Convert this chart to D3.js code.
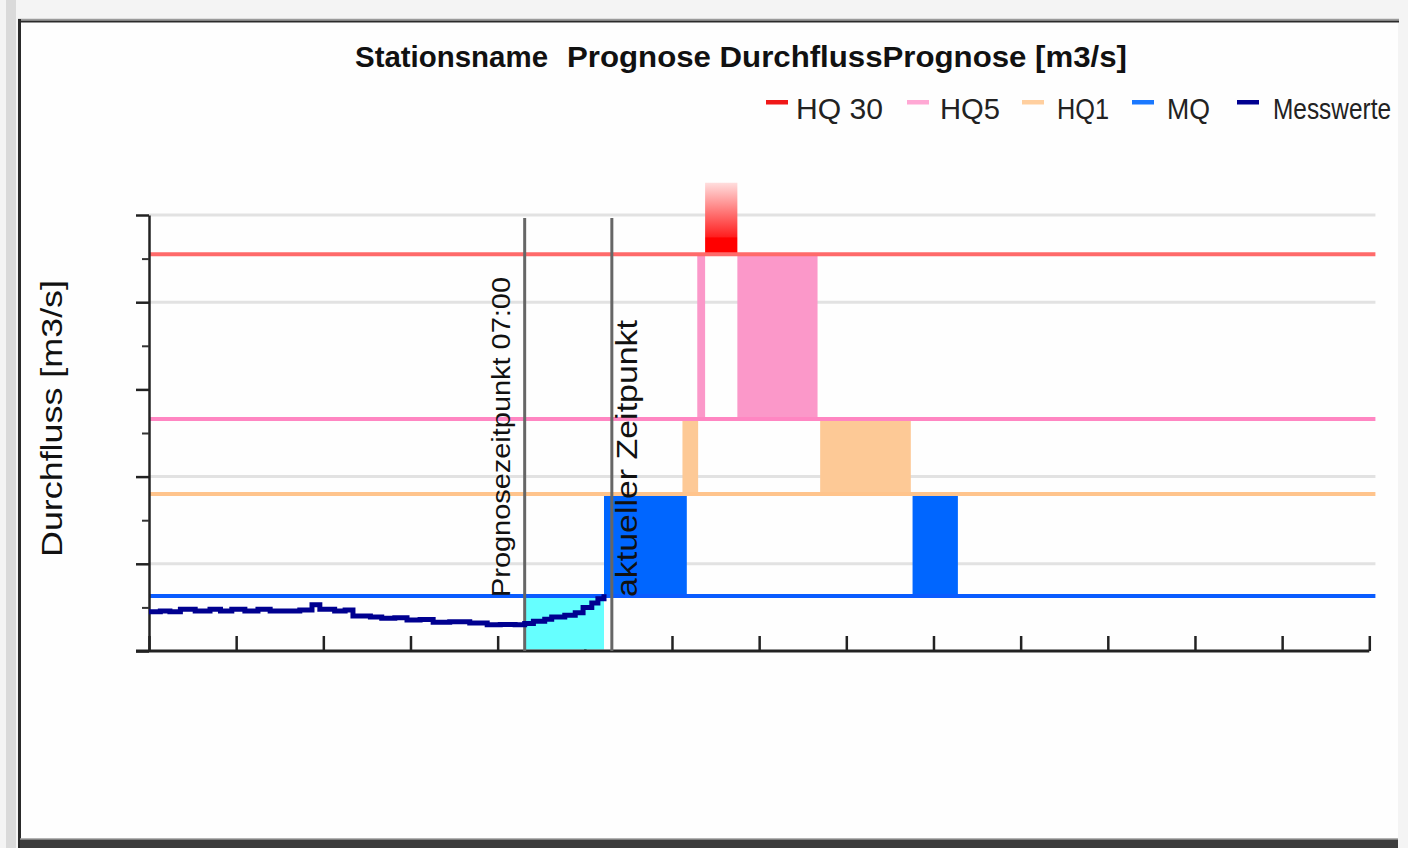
<!DOCTYPE html>
<html>
<head>
<meta charset="utf-8">
<script src="https://cdn.jsdelivr.net/npm/d3@7"></script>
<style>
  html, body { margin: 0; padding: 0; background: #f4f4f4; }
  svg { display: block; }
  text { font-family: "Liberation Sans", Arial, sans-serif; }
</style>
</head>
<body>
<svg id="chart" width="1408" height="848"></svg>
<script>
// ---------------- DATA ----------------
const titleStation = "Stationsname";
const titleMain = "Prognose DurchflussPrognose [m3/s]";
const yAxisLabel = "Durchfluss [m3/s]";

// threshold lines
const thresholdNames  = ["HQ 30", "HQ5", "HQ1", "MQ"];
const thresholdValues = [45.5, 26.6, 18.0, 6.3];

// legend entries
const legendLabels = ["HQ 30", "HQ5", "HQ1", "MQ", "Messwerte"];

// axis ticks (unlabelled in the original)
const xTicks = [0,1,2,3,4,5,6,7,8,9,10,11,12,13,14];
const yMajorTicks = [0,10,20,30,40,50];
const yMinorTicks = [5,15,25,35,45];
const yGridValues = [10,20,40,50];
const xLineEnd = 14.07;

// time markers
const markerLabels = ["Prognosezeitpunkt 07:00", "aktueller Zeitpunkt"];
const markerTimes  = [4.31, 5.31];
const markerTop = 49.65;

// measured-to-forecast window (cyan)
const windowStart = 4.31;
const windowEnd = 5.22;

// forecast bands: start, end, lower threshold
const bandStart = [5.22, 6.12, 6.29, 6.38, 6.75, 7.70, 8.76];
const bandEnd   = [6.17, 6.30, 6.38, 6.75, 7.67, 8.74, 9.28];
const bandLevel = ["MQ", "HQ1", "HQ5", "HQ 30", "HQ5", "HQ1", "MQ"];
const bandTopAboveHQ30 = 53.7;

// Messwerte (measured discharge)
const measX = [0.00,0.13,0.24,0.36,0.53,0.70,0.82,0.95,1.10,1.25,1.39,1.56,1.73,1.87,1.96,2.13,2.25,2.34,2.54,2.67,2.82,2.96,3.11,3.26,3.45,3.68,3.88,4.03,4.20,4.31,4.41,4.54,4.62,4.77,4.89,4.98,5.08,5.15,5.22];
const measY = [4.5,4.6,4.5,4.8,4.6,4.8,4.6,4.8,4.6,4.8,4.6,4.6,4.7,5.3,4.8,4.6,4.7,4.0,3.9,3.75,3.8,3.55,3.6,3.3,3.35,3.2,3.0,3.05,3.0,3.15,3.4,3.65,3.9,4.1,4.4,5.0,5.5,6.0,6.5];

// ---------------- STYLE / LAYOUT ----------------
const lineColors = {"HQ 30":"#ff6a6a", "HQ5":"#ff86c2", "HQ1":"#ffc48c", "MQ":"#0a5cff"};
const bandColors = {"MQ":"#0066ff", "HQ1":"#fdc996", "HQ5":"#fb98c9"};
const legendColors = ["#f01818", "#ffa8d4", "#ffcf9f", "#1a78ff", "#000090"];
const legendDashX = [766, 907, 1022, 1132, 1237];
const legendTextX = [796, 940, 1057, 1167, 1273];
const legendTextW = [87, 60, 52, 43, 118];

const svg = d3.select("#chart");

// frame
svg.append("rect").attr("x",0).attr("y",0).attr("width",1408).attr("height",848).attr("fill","#f4f4f4");
svg.append("rect").attr("x",6).attr("y",0).attr("width",10).attr("height",848).attr("fill","#dadada");
svg.append("rect").attr("x",20).attr("y",22).attr("width",1378).attr("height",818).attr("fill","#fefefe");
svg.append("line").attr("x1",18).attr("x2",1399).attr("y1",19.5).attr("y2",19.5).attr("stroke","#9a9a9a").attr("stroke-width",1.5);
svg.append("line").attr("x1",18).attr("x2",1399).attr("y1",21.5).attr("y2",21.5).attr("stroke","#2a2a2a").attr("stroke-width",2);
svg.append("line").attr("x1",19.5).attr("x2",19.5).attr("y1",19).attr("y2",848).attr("stroke","#2a2a2a").attr("stroke-width",3);
svg.append("rect").attr("x",20).attr("y",839).attr("width",1378).attr("height",9).attr("fill","#3c3c3c");
svg.append("line").attr("x1",20).attr("x2",1398).attr("y1",839).attr("y2",839).attr("stroke","#9a9a9a").attr("stroke-width",1.5);

// scales
const x = d3.scaleLinear().domain([0, 14]).range([149, 1369.3]);
const y = d3.scaleLinear().domain([0, 50]).range([651, 215]);
const thr = {};
thresholdNames.forEach((n,i) => thr[n] = thresholdValues[i]);
const nextAbove = {"MQ":"HQ1", "HQ1":"HQ5", "HQ5":"HQ 30"};

// gridlines
svg.append("g").selectAll("line").data(yGridValues).join("line")
  .attr("x1", x(0)).attr("x2", x(xLineEnd))
  .attr("y1", d => y(d)).attr("y2", d => y(d))
  .attr("stroke", "#e2e2e2").attr("stroke-width", 3);

// x axis ticks (inside, upward)
const xAxisG = svg.append("g").attr("transform", `translate(0,${y(0)})`)
  .call(d3.axisBottom(x).tickValues(xTicks).tickSizeInner(-15).tickSizeOuter(0).tickFormat(""));
xAxisG.select(".domain").remove();
xAxisG.selectAll(".tick line").attr("stroke","#222").attr("stroke-width",2.5);

// cyan window
svg.append("rect")
  .attr("x", x(windowStart)).attr("width", x(windowEnd) - x(windowStart))
  .attr("y", y(thr["MQ"])).attr("height", y(0) - y(thr["MQ"]) - 1.5)
  .attr("fill", "#66ffff");

// red gradient
const defs = svg.append("defs");
const grad = defs.append("linearGradient").attr("id","redGrad").attr("x1",0).attr("y1",0).attr("x2",0).attr("y2",1);
grad.append("stop").attr("offset","0").attr("stop-color","#ffdede");
grad.append("stop").attr("offset","0.76").attr("stop-color","#ff1e1e");
grad.append("stop").attr("offset","0.77").attr("stop-color","#ff0000");
grad.append("stop").attr("offset","1").attr("stop-color","#ff0000");

// forecast bands
const bands = bandStart.map((s,i) => ({s, e: bandEnd[i], lvl: bandLevel[i]}));
svg.append("g").selectAll("rect").data(bands).join("rect")
  .attr("x", d => x(d.s)).attr("width", d => x(d.e) - x(d.s))
  .attr("y", d => y(d.lvl === "HQ 30" ? bandTopAboveHQ30 : thr[nextAbove[d.lvl]]))
  .attr("height", d => y(thr[d.lvl]) - y(d.lvl === "HQ 30" ? bandTopAboveHQ30 : thr[nextAbove[d.lvl]]))
  .attr("fill", d => d.lvl === "HQ 30" ? "url(#redGrad)" : bandColors[d.lvl]);

// threshold lines
svg.append("g").selectAll("line").data(thresholdNames).join("line")
  .attr("x1", x(0)).attr("x2", x(xLineEnd))
  .attr("y1", d => y(thr[d])).attr("y2", d => y(thr[d]))
  .attr("stroke", d => lineColors[d]).attr("stroke-width", 4);

// axes domain lines
svg.append("line").attr("x1", 136).attr("x2", x(14)).attr("y1", y(0)).attr("y2", y(0))
  .attr("stroke","#222").attr("stroke-width",3);

const yAxisG = svg.append("g").attr("transform", `translate(${x(0)},0)`)
  .call(d3.axisLeft(y).tickValues(yMajorTicks).tickSizeInner(13).tickSizeOuter(0).tickFormat(""));
yAxisG.select(".domain").attr("stroke","#222").attr("stroke-width",2.5);
yAxisG.selectAll(".tick line").attr("stroke","#222").attr("stroke-width",2.5);
svg.append("g").attr("transform", `translate(${x(0)},0)`)
  .call(d3.axisLeft(y).tickValues(yMinorTicks).tickSizeInner(7).tickSizeOuter(0).tickFormat(""))
  .call(g => g.select(".domain").remove())
  .selectAll(".tick line").attr("stroke","#333").attr("stroke-width",2);

// time markers
svg.append("g").selectAll("line").data(markerTimes).join("line")
  .attr("x1", d => x(d)).attr("x2", d => x(d))
  .attr("y1", y(markerTop)).attr("y2", y(0))
  .attr("stroke", "#666").attr("stroke-width", 3);

// Messwerte line
const meas = measX.map((v,i) => [v, measY[i]]);
svg.append("path").datum(meas)
  .attr("d", d3.line().x(d => x(d[0])).y(d => y(d[1])).curve(d3.curveStepAfter))
  .attr("fill","none").attr("stroke","#000090").attr("stroke-width",5);

// marker labels
svg.append("text")
  .attr("transform", `translate(${x(markerTimes[0]) - 15},597) rotate(-90)`)
  .attr("font-size", 25).attr("fill","#111")
  .attr("textLength", 320).attr("lengthAdjust","spacingAndGlyphs")
  .text(markerLabels[0]);
svg.append("text")
  .attr("transform", `translate(${x(markerTimes[1]) + 25},597) rotate(-90)`)
  .attr("font-size", 29).attr("fill","#111")
  .attr("textLength", 277).attr("lengthAdjust","spacingAndGlyphs")
  .text(markerLabels[1]);

// y axis label
svg.append("text")
  .attr("transform", "translate(62,418.5) rotate(-90)")
  .attr("text-anchor","middle")
  .attr("font-size", 29).attr("fill","#111")
  .attr("textLength", 277).attr("lengthAdjust","spacingAndGlyphs")
  .text(yAxisLabel);

// title
svg.append("text").attr("x",355).attr("y",67)
  .attr("font-size",30).attr("font-weight","bold").attr("fill","#111")
  .attr("textLength",193).attr("lengthAdjust","spacingAndGlyphs")
  .text(titleStation);
svg.append("text").attr("x",567).attr("y",67)
  .attr("font-size",30).attr("font-weight","bold").attr("fill","#111")
  .attr("textLength",560).attr("lengthAdjust","spacingAndGlyphs")
  .text(titleMain);

// legend
const lg = svg.append("g");
lg.selectAll("rect").data(legendLabels).join("rect")
  .attr("x", (d,i) => legendDashX[i]).attr("y", 100).attr("width", 22).attr("height", 4.5)
  .attr("fill", (d,i) => legendColors[i]);
lg.selectAll("text").data(legendLabels).join("text")
  .attr("x", (d,i) => legendTextX[i]).attr("y", 119)
  .attr("font-size", 29).attr("fill","#222")
  .attr("textLength", (d,i) => legendTextW[i]).attr("lengthAdjust","spacingAndGlyphs")
  .text(d => d);
</script>
</body>
</html>
